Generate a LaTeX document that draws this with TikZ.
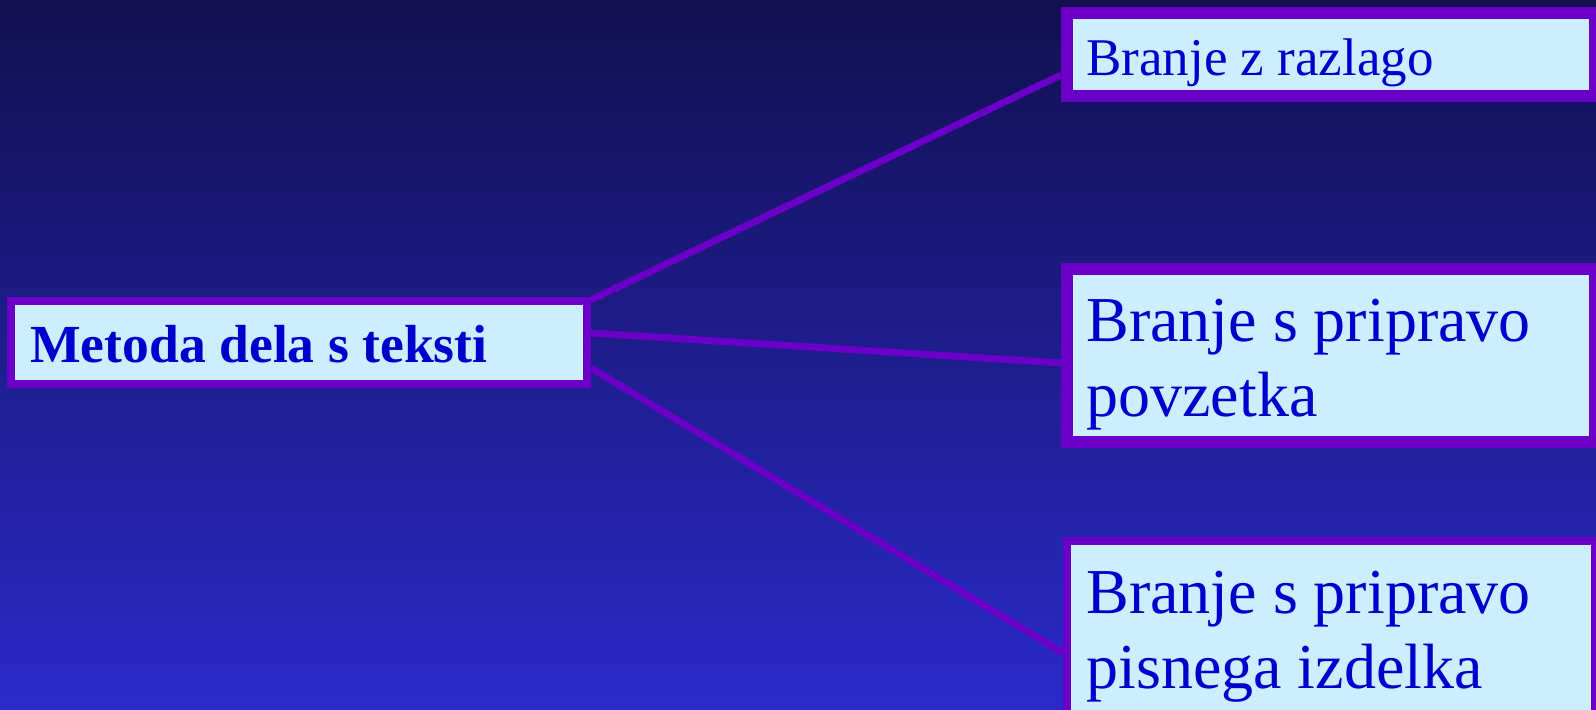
\documentclass[tikz,border=0pt]{standalone}
\usepackage{fontspec}
\setmainfont{Liberation Serif}
\definecolor{bgtop}{HTML}{121050}
\definecolor{bgbot}{HTML}{2A2ACA}
\definecolor{edge}{HTML}{6A00C8}
\definecolor{boxfill}{HTML}{CCEEFF}
\definecolor{ink}{HTML}{0000CC}
\pgfdeclarelayer{bg}
\pgfdeclarelayer{links}
\pgfsetlayers{bg,links,main}
\begin{document}
\begin{tikzpicture}[x=0.5pt,y=-0.5pt,
  boxA/.style={draw=edge, fill=boxfill, line width=6pt, inner sep=0pt},
  boxB/.style={draw=edge, fill=boxfill, line width=4pt, inner sep=0pt},
  link/.style={draw=edge, line width=3.5pt},
  lbl/.style={text=ink, inner sep=0pt, anchor=base west},
  small/.style={font=\fontsize{26.5}{30}\selectfont},
  smallbold/.style={font=\fontsize{26.8}{30}\selectfont\bfseries},
  big/.style={font=\fontsize{32}{37.5}\selectfont}
]
\useasboundingbox (0,0) rectangle (1596,710);
\clip (0,0) rectangle (1596,710);
\begin{pgfonlayer}{bg}
\shade[top color=bgtop, bottom color=bgbot] (0,0) rectangle (1596,710);
\end{pgfonlayer}

\node[boxB, minimum width=288pt, minimum height=41.5pt] (m) at (299,342.5) {};
\node[boxA, minimum width=264pt, minimum height=41.5pt] (b1) at (1331,54.5) {};
\node[boxA, minimum width=264pt, minimum height=86.5pt] (b2) at (1331,355.5) {};
\node[boxB, minimum width=264pt, minimum height=109.5pt] (b3) at (1331,650.5) {};

\begin{pgfonlayer}{links}
\draw[link] ([yshift=-1.5pt]m.north east) -- ([yshift=-10.25pt]b1.west);
\draw[link] ([yshift=4.75pt]m.east) -- ([yshift=-3.75pt]b2.west);
\draw[link] ([yshift=-12.75pt]m.east) -- ([yshift=-1.25pt]b3.west);
\end{pgfonlayer}

\node[lbl, smallbold] (tm) at (30,363) {Metoda dela s teksti};
\node[lbl, small] (t1) at (1086,76) {Branje z razlago};
\node[lbl, big] (t2) at (1086,342) {\begin{tabular}[t]{@{}l@{}}Branje s pripravo\\povzetka\end{tabular}};
\node[lbl, big] (t3) at (1086,614) {\begin{tabular}[t]{@{}l@{}}Branje s pripravo\\pisnega izdelka\end{tabular}};
\end{tikzpicture}
\end{document}
